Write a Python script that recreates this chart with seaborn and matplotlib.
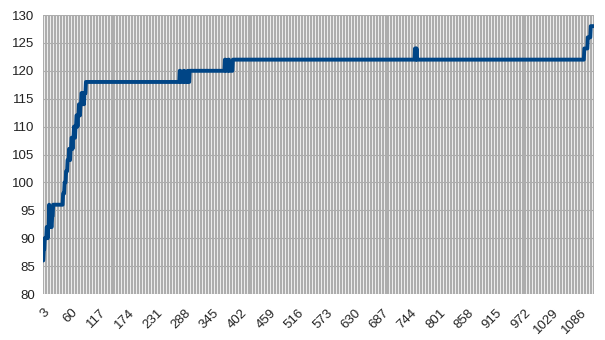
import numpy as np
import pandas as pd
import matplotlib
matplotlib.use("Agg")
import matplotlib.pyplot as plt
import seaborn as sns

# ---- data (run-length encoded step series) ----
first_category = 3
run_values = [86, 88, 90,
              92, 90, 92, 96, 92, 94, 92, 94,
              96,
              98, 100, 102, 104, 106, 104, 106, 108, 106, 108, 110, 108, 110, 112,
              110, 112, 114, 112, 114, 116, 114, 116, 114, 116,
              118,
              120, 118, 120, 118, 120, 118,
              120,
              122, 120, 122, 120,
              122,
              124, 122, 124,
              122,
              124, 126, 128]
run_counts = [1, 2, 4,
              2, 1, 2, 1, 2, 1, 2, 2,
              20,
              3, 3, 3, 3, 2, 1, 2, 2, 1, 2, 2, 1, 2, 2,
              1, 2, 2, 1, 2, 2, 1, 2, 1, 3,
              189,
              2, 6, 2, 6, 1, 3,
              71,
              2, 5, 2, 7,
              367,
              2, 1, 1,
              337,
              7, 6, 7]
tick_labels = [3, 60, 117, 174, 231, 288, 345, 402, 459, 516, 573, 630,
               687, 744, 801, 858, 915, 972, 1029, 1086]
y_ticks = [80, 85, 90, 95, 100, 105, 110, 115, 120, 125, 130]

values = np.repeat(run_values, run_counts)
categories = np.arange(first_category, first_category + len(values))
df = pd.DataFrame({"category": categories, "value": values})

sns.set_theme(style="white")
plt.rcParams["font.family"] = ["Liberation Sans", "DejaVu Sans"]

fig = plt.figure(figsize=(6.05, 3.40), dpi=100)
ax = fig.add_axes([43 / 605, 1 - 294 / 340, 551 / 605, 279 / 340])

grid_col = "#adadad"
x_lo, x_hi = categories[0] - 0.5, categories[-1] + 0.5

sns.lineplot(data=df, x="category", y="value", ax=ax, color="#004586",
             linewidth=2.8, zorder=3)

ax.set_xlim(x_lo, x_hi)
ax.set_ylim(80, 130)
ax.set_yticks(y_ticks)
ax.set_xticks(tick_labels)
ax.set_xticklabels([str(t) for t in tick_labels], rotation=45, ha="right",
                   va="top", rotation_mode="anchor", fontsize=9.5, color="#222222")
ax.set_yticklabels([str(t) for t in y_ticks], fontsize=9.5, color="#222222")
ax.set_xticks(np.arange(x_lo, x_hi + 0.01, 6), minor=True)

ax.tick_params(axis="x", which="major", length=0, pad=9)
ax.tick_params(axis="x", which="minor", length=4.5, width=1.6, color=grid_col)
ax.tick_params(axis="y", which="major", length=4, width=0.8, color=grid_col, pad=2)

ax.grid(True, axis="x", which="minor", color=grid_col, linewidth=1.6)
ax.grid(True, axis="y", which="major", color=grid_col, linewidth=0.8)
ax.grid(False, axis="x", which="major")
ax.set_axisbelow(True)
for s in ax.spines.values():
    s.set_visible(False)
ax.set_xlabel("")
ax.set_ylabel("")

fig.savefig("out.png", dpi=100)
